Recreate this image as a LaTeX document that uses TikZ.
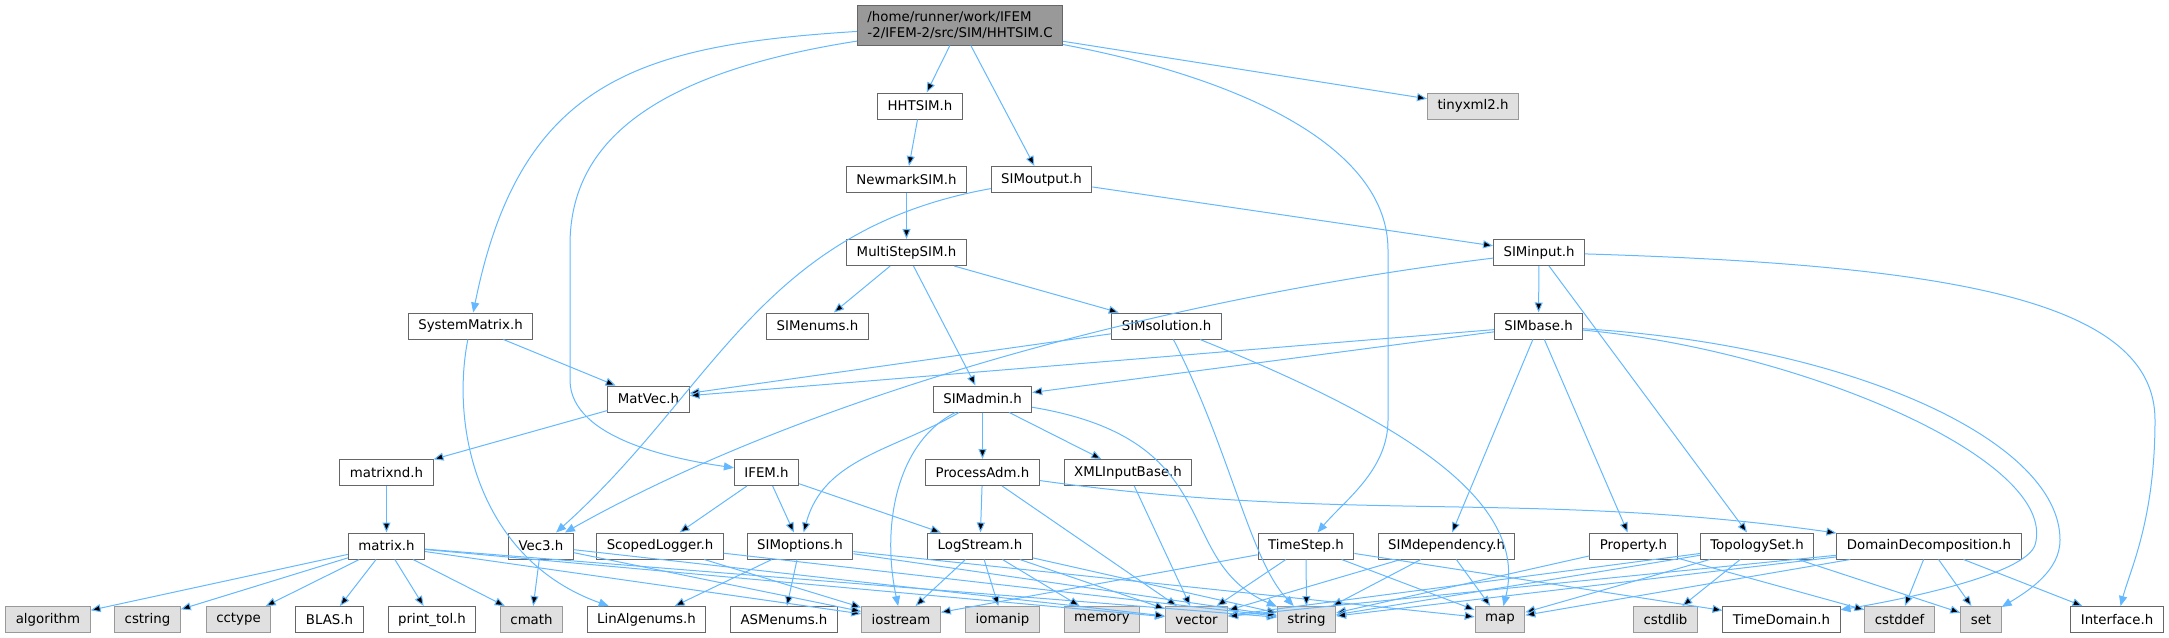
\documentclass[tikz,border=0pt]{standalone}
\usepackage{fontspec}
\setmainfont{DejaVu Sans}
\usetikzlibrary{arrows.meta}
\definecolor{edgeblue}{HTML}{63B8FF}
\definecolor{bordgray}{HTML}{666666}
\definecolor{sysbord}{HTML}{999999}
\definecolor{sysfill}{HTML}{E0E0E0}
\definecolor{rootfill}{HTML}{999999}
\tikzset{
    hdr/.style = {rectangle, draw=bordgray, fill=white, line width=0.75pt, minimum height=19.5pt, inner xsep=7.5pt, inner ysep=0pt, font=\fontsize{10}{11.5}\selectfont},
    hdrsys/.style = {hdr, draw=sysbord, fill=sysfill}, % system header
    hdrroot/.style = {hdr, fill=rootfill, align=left, minimum height=30pt}, % the file itself
    edgeb/.style = {-{Triangle[length=7.5pt,width=6pt]}, draw=edgeblue, line width=0.75pt},
}

\begin{document}
\begin{tikzpicture}[x=0.75pt,y=-0.75pt]
\useasboundingbox (0,0) rectangle (2169,637);
%
\node[hdrroot] at (960, 25) (root) {/home/runner/work/IFEM\\-2/IFEM-2/src/SIM/HHTSIM.C};
\node[hdr] at (920, 106) (hhtsim) {HHTSIM.h};
\node[hdrsys] at (1473, 106) (tinyxml) {tinyxml2.h};
\node[hdr] at (906.5, 179.5) (newmark) {NewmarkSIM.h};
\node[hdr] at (1041.5, 179.5) (simoutput) {SIMoutput.h};
\node[hdr] at (906.5, 252.5) (multistep) {MultiStepSIM.h};
\node[hdr] at (1539, 252.5) (siminput) {SIMinput.h};
\node[hdr] at (470.5, 326) (sysmat) {SystemMatrix.h};
\node[hdr] at (817.5, 326) (simenums) {SIMenums.h};
\node[hdr] at (1166.5, 326) (simsolution) {SIMsolution.h};
\node[hdr] at (1538.5, 326) (simbase) {SIMbase.h};
\node[hdr] at (648.5, 399) (matvec) {MatVec.h};
\node[hdr] at (982.5, 399) (simadmin) {SIMadmin.h};
\node[hdr] at (386.5, 472.5) (matrixnd) {matrixnd.h};
\node[hdr] at (766.5, 472.5) (ifem) {IFEM.h};
\node[hdr] at (982.5, 472.5) (processadm) {ProcessAdm.h};
\node[hdr] at (1128, 472.5) (xmlinput) {XMLInputBase.h};
%
\node[hdr] at (386.5, 546) (matrix) {matrix.h};
\node[hdr] at (541, 546) (vec3) {Vec3.h};
\node[hdr] at (660, 546) (scopedlog) {ScopedLogger.h};
\node[hdr] at (800, 546) (simoptions) {SIMoptions.h};
\node[hdr] at (980, 546) (logstream) {LogStream.h};
\node[hdr] at (1306, 546) (timestep) {TimeStep.h};
\node[hdr] at (1446.5, 546) (simdep) {SIMdependency.h};
\node[hdr] at (1633.5, 546) (property) {Property.h};
\node[hdr] at (1757, 546) (topology) {TopologySet.h};
\node[hdr] at (1929, 546) (domdecomp) {DomainDecomposition.h};
%
\node[hdrsys] at (48, 619.5) (algorithm) {algorithm};
\node[hdrsys] at (147.5, 619.5) (cstring) {cstring};
\node[hdrsys] at (238.5, 619.5) (cctype) {cctype};
\node[hdr] at (329.5, 619.5) (blas) {BLAS.h};
\node[hdr] at (432, 619.5) (printtol) {print\_tol.h};
\node[hdrsys] at (531.5, 619.5) (cmath) {cmath};
\node[hdr] at (646.5, 619.5) (linalgenums) {LinAlgenums.h};
\node[hdr] at (784, 619.5) (asmenums) {ASMenums.h};
\node[hdrsys] at (901, 619.5) (iostream) {iostream};
\node[hdrsys] at (1002.5, 619.5) (iomanip) {iomanip};
\node[hdrsys] at (1102, 619.5) (memory) {memory};
\node[hdrsys] at (1196.5, 619.5) (vector) {vector};
\node[hdrsys] at (1306.5, 619.5) (string) {string};
\node[hdrsys] at (1500, 619.5) (map) {map};
\node[hdrsys] at (1665.5, 619.5) (cstdlib) {cstdlib};
\node[hdr] at (1781.5, 619.5) (timedomain) {TimeDomain.h};
\node[hdrsys] at (1899.5, 619.5) (cstddef) {cstddef};
\node[hdrsys] at (1981, 619.5) (set) {set};
\node[hdr] at (2117, 619.5) (interface) {Interface.h};
%
\draw[edgeb] (root) .. controls (640,45) and (520,80) .. (sysmat);
\draw[edgeb] (root) .. controls (640,75) and (570,150) .. (570,245) -- (570,380) .. controls (570,440) and (680,460) .. (ifem);
\draw[edgeb] (root) edge (hhtsim);
\draw[edgeb] (root) edge (simoutput);
\draw[edgeb] (root) edge (tinyxml);
\draw[edgeb] (root) .. controls (1250,80) and (1388,150) .. (1388,250) -- (1388,420) .. controls (1388,470) and (1345,500) .. (timestep);
\draw[edgeb] (hhtsim) edge (newmark);
\draw[edgeb] (newmark) edge (multistep);
\draw[edgeb] (simoutput) edge (siminput);
\draw[edgeb] (simoutput) .. controls (760,230) and (715,390) .. (vec3);
\draw[edgeb] (siminput) edge (simbase);
\draw[edgeb] (siminput) edge (topology);
\draw[edgeb] (siminput) .. controls (1150,300) and (800,400) .. (vec3);
\draw[edgeb] (siminput) .. controls (1950,265) and (2155,300) .. (2155,420) .. controls (2155,520) and (2130,570) .. (interface);
\draw[edgeb] (multistep) edge (simenums);
\draw[edgeb] (multistep) edge (simadmin);
\draw[edgeb] (multistep) edge (simsolution);
\draw[edgeb] (simsolution) edge (matvec);
\draw[edgeb] (simsolution) .. controls (1230,450) and (1250,560) .. (string);
\draw[edgeb] (simsolution) .. controls (1400,420) and (1530,500) .. (map);
\draw[edgeb] (simbase) edge (matvec);
\draw[edgeb] (simbase) edge (simadmin);
\draw[edgeb] (simbase) edge (simdep);
\draw[edgeb] (simbase) edge (property);
\draw[edgeb] (simbase) .. controls (1800,350) and (2060,460) .. (2035,545) .. controls (2025,575) and (1900,600) .. (timedomain);
\draw[edgeb] (simbase) .. controls (1850,345) and (2060,440) .. (2060,540) .. controls (2060,570) and (2030,590) .. (set);
\draw[edgeb] (sysmat) edge (matvec);
\draw[edgeb] (sysmat) .. controls (450,430) and (480,560) .. (linalgenums);
\draw[edgeb] (matvec) edge (matrixnd);
\draw[edgeb] (matrixnd) edge (matrix);
\draw[edgeb] (simadmin) edge[out=-150,in=75] (simoptions);
\draw[edgeb] (simadmin) .. controls (900,440) and (880,520) .. (iostream);
\draw[edgeb] (simadmin) edge (processadm);
\draw[edgeb] (simadmin) edge (xmlinput);
\draw[edgeb] (simadmin) .. controls (1230,440) and (1170,560) .. (string);
\draw[edgeb] (ifem) edge (scopedlog);
\draw[edgeb] (ifem) edge (simoptions);
\draw[edgeb] (ifem) edge (logstream);
\draw[edgeb] (processadm) edge (logstream);
\draw[edgeb] (processadm) edge (vector);
\draw[edgeb] (processadm) edge[out=-8,in=172] (domdecomp);
\draw[edgeb] (xmlinput) edge (vector);
%
\foreach \dst in {algorithm,cstring,cctype,blas,printtol,cmath,iostream,vector,string}
    \draw[edgeb] (matrix) edge (\dst);
\foreach \dst in {cmath,iostream,vector}
    \draw[edgeb] (vec3) edge (\dst);
\foreach \dst in {iostream,string}
    \draw[edgeb] (scopedlog) edge (\dst);
\foreach \dst in {linalgenums,asmenums,string,map}
    \draw[edgeb] (simoptions) edge (\dst);
\foreach \dst in {iostream,iomanip,memory,vector,string}
    \draw[edgeb] (logstream) edge (\dst);
\foreach \dst in {iostream,vector,string,map,timedomain}
    \draw[edgeb] (timestep) edge (\dst);
\foreach \dst in {vector,string,map}
    \draw[edgeb] (simdep) edge (\dst);
\foreach \dst in {string,cstddef}
    \draw[edgeb] (property) edge (\dst);
\foreach \dst in {vector,string,map,cstdlib,set}
    \draw[edgeb] (topology) edge (\dst);
\foreach \dst in {vector,string,map,cstddef,set,interface}
    \draw[edgeb] (domdecomp) edge (\dst);

\end{tikzpicture}
\end{document}
